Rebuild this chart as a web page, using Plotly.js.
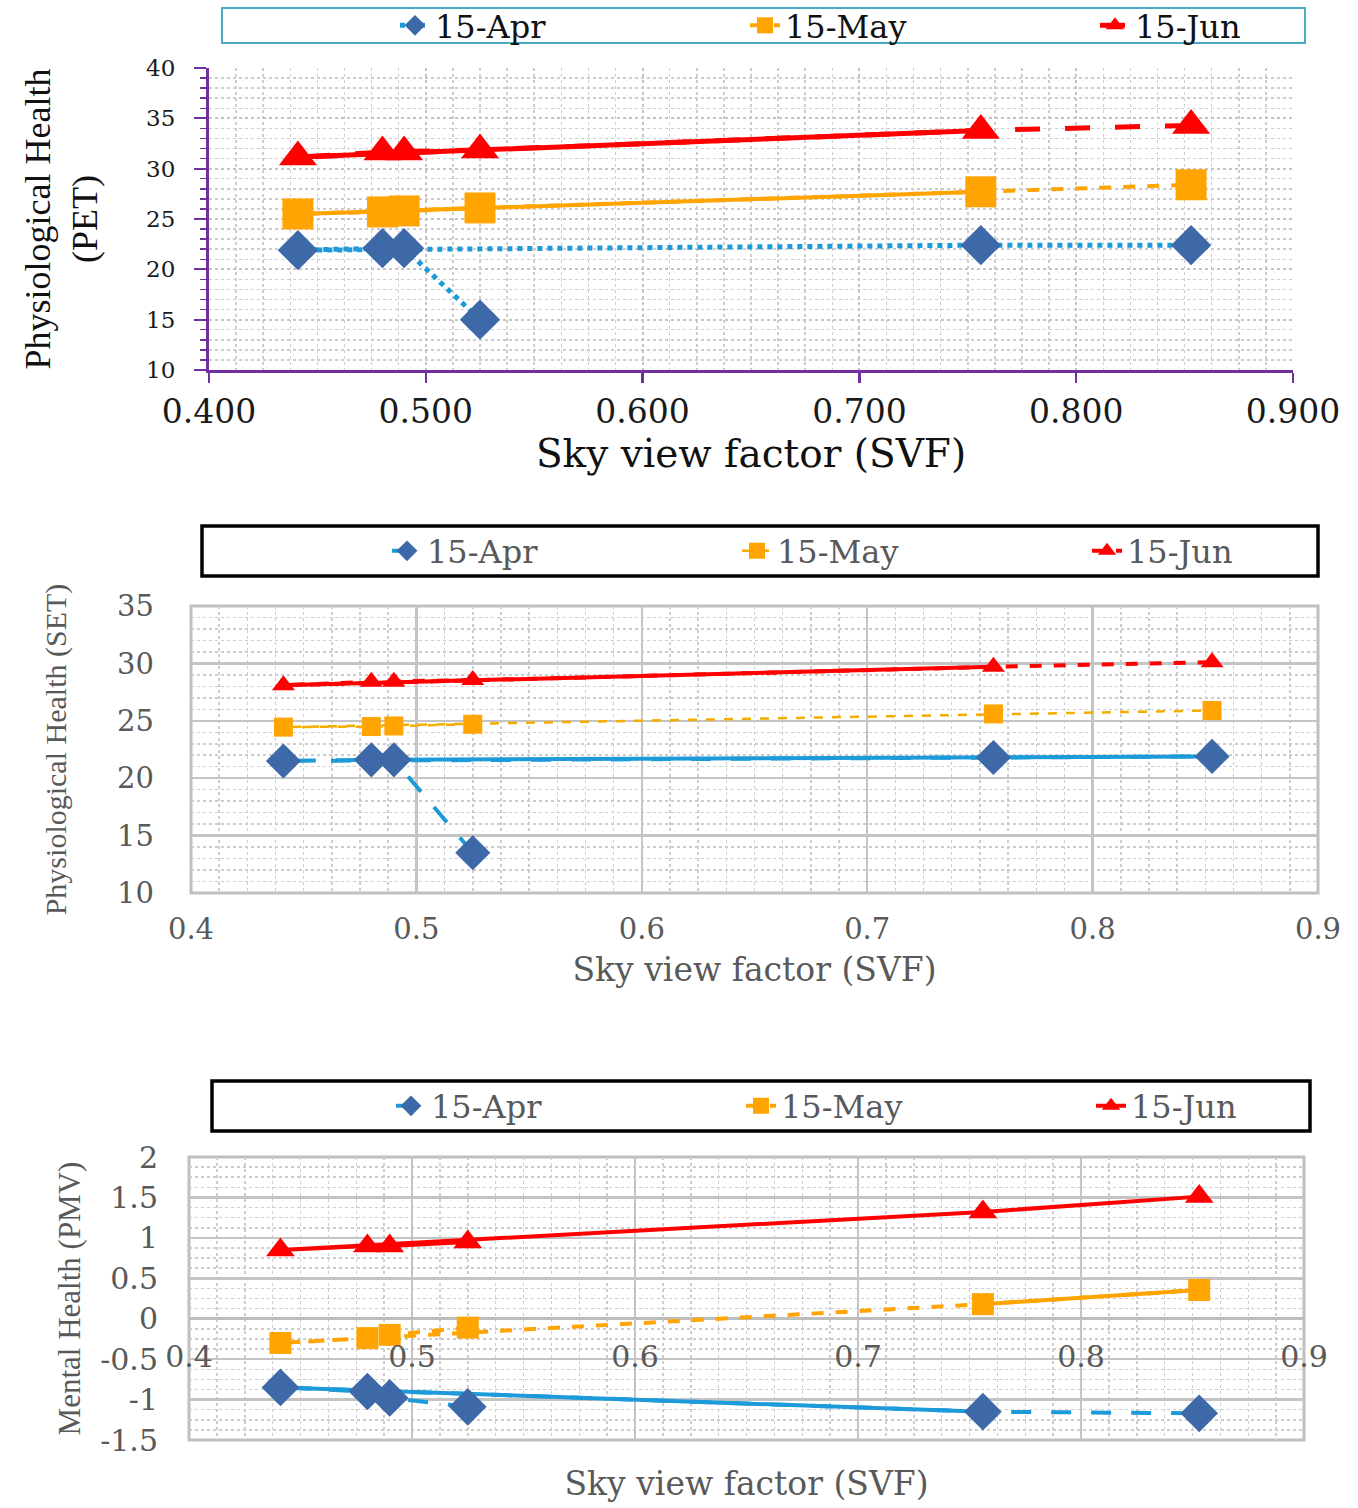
<!DOCTYPE html>
<html>
<head>
<meta charset="utf-8">
<script src="https://cdn.plot.ly/plotly-3.0.1.min.js"></script>
<style>
    body { margin: 0; background: #fff; }
    #chart { width: 1358px; height: 1508px; }
</style>
</head>
<body>
<div id="chart"></div>
<script>
// sky view factor of the six sites, in the order the sheet lists them
var svf = [0.525, 0.490, 0.480, 0.441, 0.756, 0.853];
var svfTicks = [0.4, 0.5, 0.6, 0.7, 0.8, 0.9];
var seriesNames = ['15-Apr', '15-May', '15-Jun'];

// physiological health (PET)
var petApr = [15.0, 22.1, 22.1, 21.9, 22.4, 22.4];
var petMay = [26.1, 25.8, 25.7, 25.5, 27.7, 28.4];
var petJun = [31.85, 31.65, 31.65, 31.15, 33.8, 34.3];

// physiological health (SET)
var setApr = [13.5, 21.6, 21.6, 21.5, 21.8, 21.9];
var setMay = [24.7, 24.55, 24.5, 24.45, 25.6, 25.9];
var setJun = [28.55, 28.4, 28.4, 28.1, 29.7, 30.1];

// mental health (PMV)
var pmvApr = [-1.09, -0.98, -0.90, -0.85, -1.15, -1.17];
var pmvMay = [-0.11, -0.20, -0.24, -0.30, 0.18, 0.355];
var pmvJun = [0.95, 0.90, 0.90, 0.85, 1.32, 1.51];
var pmvTicks = [-1.5, -1, -0.5, 0, 0.5, 1, 1.5, 2];
var pmvTickText = ['-1.5', '-1', '-0.5', '0', '0.5', '1', '1.5', '2'];


var W = 1358, H = 1508;
function px(x) { return x / W; }
function py(y) { return 1 - y / H; }

var purple = '#7030a0';
var grey = '#595959';
var aprLine = '#1c9ad9', aprMarker = '#3e69a9';
var mayColor = '#ffa400', junColor = '#ff0000';
var serif = 'DejaVu Serif, serif';
var times = 'Liberation Serif, serif';

function seriesTrace(xaxis, yaxis, legend, name, y, marker, line) {
    return {
        x: svf,
        y: y,
        xaxis: xaxis,
        yaxis: yaxis,
        legend: legend,
        name: name,
        type: 'scatter',
        mode: 'lines+markers',
        marker: marker,
        line: line,
        cliponaxis: false
    };
}

// solid stretch drawn over part of a series line, through the given points
function segmentTrace(xaxis, yaxis, y, idx, color, width) {
    return {
        x: idx.map(i => svf[i]),
        y: idx.map(i => y[i]),
        xaxis: xaxis,
        yaxis: yaxis,
        mode: 'lines',
        line: { color: color, width: width },
        showlegend: false,
        hoverinfo: 'skip'
    };
}

var traces = [];

// panel 1 - PET
traces.push(segmentTrace('x', 'y', petMay, [3, 4], mayColor, 4));
traces.push(segmentTrace('x', 'y', petJun, [3, 4], junColor, 5));
traces.push(seriesTrace('x', 'y', 'legend', seriesNames[0], petApr,
    { symbol: 'diamond', size: 31, color: aprMarker },
    { color: aprLine, width: 5, dash: 'dot' }));
traces.push(seriesTrace('x', 'y', 'legend', seriesNames[1], petMay,
    { symbol: 'square', size: 31, color: mayColor },
    { color: mayColor, width: 4, dash: 'dash' }));
traces.push(seriesTrace('x', 'y', 'legend', seriesNames[2], petJun,
    { symbol: 'triangle-up', size: 33, color: junColor },
    { color: junColor, width: 5, dash: 'longdash' }));

// panel 2 - SET
traces.push(segmentTrace('x2', 'y2', setApr, [1, 4, 5], aprLine, 4));
traces.push(segmentTrace('x2', 'y2', setJun, [3, 4], junColor, 4));
traces.push(seriesTrace('x2', 'y2', 'legend2', seriesNames[0], setApr,
    { symbol: 'diamond', size: 27, color: aprMarker },
    { color: aprLine, width: 4, dash: 'longdash' }));
traces.push(seriesTrace('x2', 'y2', 'legend2', seriesNames[1], setMay,
    { symbol: 'square', size: 19, color: mayColor },
    { color: '#f2ad00', width: 2.5, dash: 'dash' }));
traces.push(seriesTrace('x2', 'y2', 'legend2', seriesNames[2], setJun,
    { symbol: 'triangle-up', size: 20, color: junColor },
    { color: junColor, width: 4, dash: 'dash' }));

// panel 3 - PMV
traces.push(segmentTrace('x3', 'y3', pmvApr, [3, 4], aprLine, 4));
traces.push(segmentTrace('x3', 'y3', pmvMay, [4, 5], mayColor, 4));
traces.push(seriesTrace('x3', 'y3', 'legend3', seriesNames[0], pmvApr,
    { symbol: 'diamond', size: 29, color: aprMarker },
    { color: aprLine, width: 4, dash: 'longdash' }));
traces.push(seriesTrace('x3', 'y3', 'legend3', seriesNames[1], pmvMay,
    { symbol: 'square', size: 22, color: mayColor },
    { color: mayColor, width: 4, dash: 'dash' }));
traces.push(seriesTrace('x3', 'y3', 'legend3', seriesNames[2], pmvJun,
    { symbol: 'triangle-up', size: 25, color: junColor },
    { color: junColor, width: 4 }));


function minorGrid(dtick) {
    return { dtick: dtick, showgrid: true, gridcolor: '#cdcdcd', griddash: 'dot', gridwidth: 1.5, ticks: '' };
}

function legendAt(x, yCenter, color) {
    return {
        orientation: 'h',
        x: px(x),
        y: py(yCenter),
        xanchor: 'left',
        yanchor: 'middle',
        bgcolor: 'rgba(0,0,0,0)',
        borderwidth: 0,
        entrywidth: 305,
        entrywidthmode: 'pixels',
        font: { family: serif, size: 32, color: color }
    };
}

function box(x0, y0, x1, y1, color, width) {
    return {
        type: 'rect', xref: 'paper', yref: 'paper',
        x0: px(x0), x1: px(x1), y0: py(y1), y1: py(y0),
        line: { color: color, width: width }, fillcolor: 'rgba(0,0,0,0)'
    };
}

function frame(xref, yref) {
    return {
        type: 'rect', xref: xref + ' domain', yref: yref + ' domain',
        x0: 0, x1: 1, y0: 0, y1: 1,
        line: { color: '#bfbfbf', width: 3 }, layer: 'below'
    };
}

var layout = {
    width: W,
    height: H,
    margin: { l: 0, r: 0, t: 0, b: 0, autoexpand: false },
    paper_bgcolor: '#ffffff',
    plot_bgcolor: '#ffffff',
    showlegend: true,

    xaxis: {
        domain: [px(209), px(1293)],
        anchor: 'y',
        range: [0.4, 0.9],
        tickvals: svfTicks,
        tickformat: '.3f',
        showline: true, linecolor: purple, linewidth: 3,
        ticks: 'outside', ticklen: 10, tickwidth: 2.5, tickcolor: purple,
        ticklabelstandoff: 0,
        tickfont: { family: serif, size: 33, color: '#1a1a1a' },
        showgrid: true, gridcolor: '#c4c4c4', griddash: 'dot', gridwidth: 2,
        minor: minorGrid(0.0125),
        zeroline: false,
        automargin: true,
        title: { text: 'Sky view factor (SVF)', font: { family: serif, size: 39, color: '#111' }, standoff: 0 }
    },
    yaxis: {
        domain: [py(370), py(68)],
        anchor: 'x',
        range: [10, 40],
        dtick: 5,
        showline: true, linecolor: purple, linewidth: 3,
        ticks: 'outside', ticklen: 12, tickwidth: 2, tickcolor: purple,
        ticklabelstandoff: 14,
        tickfont: { family: serif, size: 23, color: '#1a1a1a' },
        showgrid: true, gridcolor: '#c4c4c4', griddash: 'dot', gridwidth: 2,
        minor: { dtick: 1, ticks: 'outside', ticklen: 6, tickwidth: 1.5, tickcolor: purple,
                 showgrid: true, gridcolor: '#cdcdcd', griddash: 'dot', gridwidth: 1.5 },
        zeroline: false,
        automargin: true,
        title: { text: 'Physiological Health<br>(PET)', font: { family: times, size: 36, color: '#111' }, standoff: 38 }
    },

    xaxis2: {
        domain: [px(191), px(1318)],
        anchor: 'y2',
        range: [0.4, 0.9],
        tickvals: svfTicks,
        ticks: '',
        ticklabelstandoff: 16,
        tickfont: { family: serif, size: 29, color: grey },
        showgrid: true, gridcolor: '#c4c4c4', gridwidth: 2.5,
        minor: minorGrid(0.0125),
        zeroline: false,
        automargin: true,
        title: { text: 'Sky view factor (SVF)', font: { family: serif, size: 33, color: grey }, standoff: 12 }
    },
    yaxis2: {
        domain: [py(893), py(606)],
        anchor: 'x2',
        range: [10, 35],
        dtick: 5,
        ticks: '',
        ticklabelstandoff: 36,
        tickfont: { family: serif, size: 29, color: grey },
        showgrid: true, gridcolor: '#c4c4c4', gridwidth: 2.5,
        minor: minorGrid(1),
        zeroline: false,
        automargin: true,
        title: { text: 'Physiological Health (SET)', font: { family: times, size: 30, color: grey }, standoff: 41 }
    },

    xaxis3: {
        domain: [px(189), px(1304)],
        anchor: 'free',
        position: py(1319),
        range: [0.4, 0.9],
        tickvals: svfTicks,
        ticks: '',
        ticklabelstandoff: 17,
        tickfont: { family: serif, size: 30, color: grey },
        showgrid: true, gridcolor: '#c4c4c4', gridwidth: 2.5,
        minor: minorGrid(0.0125),
        zeroline: false,
        automargin: true,
        title: { text: 'Sky view factor (SVF)', font: { family: serif, size: 33, color: grey }, standoff: 98 }
    },
    yaxis3: {
        domain: [py(1440), py(1157)],
        anchor: 'x3',
        range: [-1.5, 2],
        tickvals: pmvTicks,
        ticktext: pmvTickText,
        ticks: '',
        ticklabelstandoff: 30,
        tickfont: { family: serif, size: 30, color: grey },
        showgrid: true, gridcolor: '#c4c4c4', gridwidth: 2.5,
        minor: minorGrid(0.125),
        zeroline: true, zerolinecolor: '#bdbdbd', zerolinewidth: 3,
        automargin: true,
        title: { text: 'Mental Health (PMV)', font: { family: times, size: 31, color: grey }, standoff: 10 }
    },

    legend: legendAt(395, 25.5, '#111'),
    legend2: legendAt(387, 551, grey),
    legend3: legendAt(391, 1106, grey),

    shapes: [
        box(222, 8, 1305, 43, '#4bacc6', 2),
        box(202, 526, 1318, 576, '#000000', 3.5),
        box(212, 1081, 1310, 1131, '#000000', 3.5),
        frame('x2', 'y2'),
        frame('x3', 'y3')
    ]
};

Plotly.newPlot('chart', traces, layout, { displayModeBar: false, staticPlot: true });
</script>
</body>
</html>
